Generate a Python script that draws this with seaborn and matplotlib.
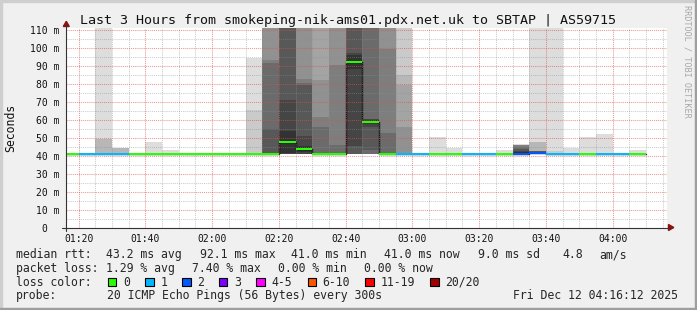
import numpy as np
import pandas as pd
import matplotlib
matplotlib.use("Agg")
import matplotlib.pyplot as plt
import seaborn as sns
from matplotlib.lines import Line2D
from matplotlib.patches import Polygon, Rectangle
from matplotlib.ticker import FixedLocator, MultipleLocator

# ---------------- data ----------------
interval_start = ["01:15", "01:20", "01:25", "01:30", "01:35", "01:40", "01:45", "01:50",
                  "01:55", "02:00", "02:05", "02:10", "02:15", "02:20", "02:25", "02:30",
                  "02:35", "02:40", "02:45", "02:50", "02:55", "03:00", "03:05", "03:10",
                  "03:15", "03:20", "03:25", "03:30", "03:35", "03:40", "03:45", "03:50",
                  "03:55", "04:00", "04:05"]

median_ms = [41, 41, 41, 41, 41, 41, 41, 41, 41, 41,
             41, 41, 41, 47.5, 43.5, 41, 41, 92.0, 58.8, 41,
             41, 41, 41, 41, 41, 41, 41, 41, 41.5, 41,
             41, 41, 41, 41, 41]

lost_pings = [0, 1, 1, 1, 0, 0, 0, 0, 0, 0,
              0, 0, 0, 0, 0, 0, 0, 0, 0, 0,
              1, 1, 0, 0, 1, 1, 0, 2, 2, 1,
              1, 0, 1, 1, 0]

# 20 sorted ping round-trip times (ms) per 5-minute step
pings_ms = [
    [41, 41, 41, 41, 41, 41, 41, 41, 41, 41, 41, 41, 41, 41, 41, 41, 41, 41, 41, 41],
    [41, 41, 41, 41, 41, 41, 41, 41, 41, 41, 41, 41, 41, 41, 41, 41, 41, 41, 41, 41],
    [41, 41, 41, 41, 41, 41, 41, 41, 41, 41, 41, 41, 41, 41, 41, 41, 41, 49.3, 49.4, 150],
    [41, 41, 41, 41, 41, 41, 41, 41, 41, 41, 41, 41, 41, 41, 41, 41, 41, 43.9, 43.9, 44.0],
    [41, 41, 41, 41, 41, 41, 41, 41, 41, 41, 41, 41, 41, 41, 41, 41, 41, 41, 41, 41],
    [41, 41, 41, 41, 41, 41, 41, 41, 41, 41, 41, 41, 41, 41, 41, 41, 41, 41, 41, 47.4],
    [41, 41, 41, 41, 41, 41, 41, 41, 41, 41, 41, 41, 41, 41, 41, 41, 41, 41, 41, 43.0],
    [41, 41, 41, 41, 41, 41, 41, 41, 41, 41, 41, 41, 41, 41, 41, 41, 41, 41, 41, 41],
    [41, 41, 41, 41, 41, 41, 41, 41, 41, 41, 41, 41, 41, 41, 41, 41, 41, 41, 41, 41],
    [41, 41, 41, 41, 41, 41, 41, 41, 41, 41, 41, 41, 41, 41, 41, 41, 41, 41, 41, 41],
    [41, 41, 41, 41, 41, 41, 41, 41, 41, 41, 41, 41, 41, 41, 41, 41, 41, 41, 41, 41],
    [41, 41, 41, 41, 41, 41, 41, 41, 41, 41, 41, 41, 41, 41, 41, 41, 41, 41, 65, 94],
    [41, 41, 41, 41, 41, 41, 41, 41, 41, 41, 41, 41, 54.8, 91.5, 92.8, 150, 150, 150, 150, 150],
    [41, 41, 41, 41, 41, 41, 41, 41, 41, 41.5, 53.5, 71.1, 150, 150, 150, 150, 150, 150, 150, 150],
    [41, 41, 41, 41, 41, 41, 41, 41, 41, 42, 45, 51, 79, 80, 82.6, 150, 150, 150, 150, 150],
    [41, 41, 41, 41, 41, 41, 41, 41, 41, 41, 41, 41, 41, 55.7, 61.3, 81.7, 150, 150, 150, 150],
    [41, 41, 41, 41, 41, 41, 41, 41, 41, 41, 41, 41, 41, 46, 90, 150, 150, 150, 150, 150],
    [41, 41, 41, 41, 41, 41, 41, 41, 45.5, 88, 96, 97, 150, 150, 150, 150, 150, 150, 150, 150],
    [41, 41, 41, 41, 41, 41, 41, 42.8, 56, 58, 59.5, 60, 60.4, 150, 150, 150, 150, 150, 150, 150],
    [41, 41, 41, 41, 41, 41, 41, 41, 41, 41, 41, 41, 41, 52.6, 99.3, 150, 150, 150, 150, 150],
    [41, 41, 41, 41, 41, 41, 41, 41, 41, 41, 41, 41, 41, 41, 41, 55.7, 78.9, 84.8, 150, 150],
    [41, 41, 41, 41, 41, 41, 41, 41, 41, 41, 41, 41, 41, 41, 41, 41, 41, 41, 41, 41],
    [41, 41, 41, 41, 41, 41, 41, 41, 41, 41, 41, 41, 41, 41, 41, 41, 41, 41, 41, 50.2],
    [41, 41, 41, 41, 41, 41, 41, 41, 41, 41, 41, 41, 41, 41, 41, 41, 41, 41, 41, 44.0],
    [41, 41, 41, 41, 41, 41, 41, 41, 41, 41, 41, 41, 41, 41, 41, 41, 41, 41, 41, 41],
    [41, 41, 41, 41, 41, 41, 41, 41, 41, 41, 41, 41, 41, 41, 41, 41, 41, 41, 41, 41],
    [41, 41, 41, 41, 41, 41, 41, 41, 41, 41, 41, 41, 41, 41, 41, 41, 41, 41, 41, 43.1],
    [41, 41, 41, 41, 41, 41, 41, 41, 41, 41, 42, 42.5, 43.5, 44.5, 45.6, 45.8, 45.9, 46.0, 46.1, 46.2],
    [41, 41, 41, 41, 41, 41, 41, 41, 41, 41, 41, 41, 42.5, 42.5, 42.5, 42.5, 42.5, 47.4, 47.4, 150],
    [41, 41, 41, 41, 41, 41, 41, 41, 41, 41, 41, 41, 41, 41, 41, 41, 41, 41, 42.5, 150],
    [41, 41, 41, 41, 41, 41, 41, 41, 41, 41, 41, 41, 41, 41, 41, 41, 41, 41, 41, 44.0],
    [41, 41, 41, 41, 41, 41, 41, 41, 41, 41, 41, 41, 41, 41, 41, 41, 41, 41, 41, 50.2],
    [41, 41, 41, 41, 41, 41, 41, 41, 41, 41, 41, 41, 41, 41, 41, 41, 41, 41, 41, 51.9],
    [41, 41, 41, 41, 41, 41, 41, 41, 41, 41, 41, 41, 41, 41, 41, 41, 41, 41, 41, 41],
    [41, 41, 41, 41, 41, 41, 41, 41, 41, 41, 41, 41, 41, 41, 41, 41, 41, 41, 41, 42.8],
]

x_tick_times = ["01:20", "01:40", "02:00", "02:20", "02:40", "03:00", "03:20", "03:40", "04:00"]
y_tick_values = [0, 10, 20, 30, 40, 50, 60, 70, 80, 90, 100, 110]
y_tick_labels = ["0  ", "10 m", "20 m", "30 m", "40 m", "50 m", "60 m", "70 m", "80 m",
                 "90 m", "100 m", "110 m"]
x_start, x_end = "01:16:12", "04:16:12"

title = "Last 3 Hours from smokeping-nik-ams01.pdx.net.uk to SBTAP | AS59715"
rtt_stats = ["43.2 ms avg", "92.1 ms max", "41.0 ms min", "41.0 ms now", "9.0 ms sd", "4.8", "am/s"]
loss_stats = ["1.29 % avg", "7.40 % max", "0.00 % min", "0.00 % now"]
loss_labels = ["0", "1", "2", "3", "4-5", "6-10", "11-19", "20/20"]
loss_colors = ["#26ff00", "#00b8ff", "#0059ff", "#7e00ff", "#ff00ff", "#ff5500", "#ff0000", "#a10000"]
probe_text = "20 ICMP Echo Pings (56 Bytes) every 300s"
stamp_text = "Fri Dec 12 04:16:12 2025"


def tmin(s):
    parts = [int(p) for p in s.split(":")]
    return parts[0] * 60 + parts[1] + (parts[2] / 60 if len(parts) > 2 else 0)


# ---------------- figure ----------------
W, H = 697, 310
sns.set_theme(style="white")
plt.rcParams["font.family"] = ["DejaVu Sans Mono"]

fig = plt.figure(figsize=(W / 100, H / 100), dpi=100, facecolor="#F0F0F0")


def fx(x):
    return x / W


def fy(y):
    return 1 - y / H


X0, X1, Y0, Y1 = 65.9, 666.8, 227.5, 27.7
PX_PER_MS = 1.8
ax = fig.add_axes([fx(X0), fy(Y0), (X1 - X0) / W, (Y0 - Y1) / H])
ax.set_facecolor("white")

starts = np.array([tmin(s) for s in interval_start], dtype=float)
P = np.array(pings_ms, dtype=float)
n = P.shape[1]
half = n // 2

# smoke: pairs of pings, outer light -> inner dark
for k in range(1, half + 1):
    lo = P[:, k - 1]
    hi = P[:, n - k]
    g = int(190 / half * (half - k)) + 50
    col = "#%02x%02x%02x" % (g, g, g)
    ax.bar(starts, hi - lo, bottom=lo, width=5, align="edge", color=col,
           linewidth=0, antialiased=False, zorder=1)

# median step line
step_df = pd.DataFrame({"t": list(starts) + [starts[-1] + 5],
                        "median": list(median_ms) + [median_ms[-1]]})
sns.lineplot(data=step_df, x="t", y="median", drawstyle="steps-post", color="#111111",
             lw=1.0, ax=ax, estimator=None, zorder=2)


def loss_color(l):
    bounds = [0, 1, 2, 3, 5, 10, 19, 20]
    for i, b in enumerate(bounds):
        if l <= b:
            return loss_colors[i]
    return loss_colors[-1]


med = np.array(median_ms, dtype=float)
ax.bar(starts, 1.1, bottom=med - 0.55, width=5, align="edge",
       color=[loss_color(l) for l in lost_pings], linewidth=0, antialiased=False, zorder=3)

ax.set_xlim(tmin(x_start), tmin(x_end))
ax.set_ylim(0, (Y0 - Y1) / PX_PER_MS)

ax.xaxis.set_major_locator(FixedLocator([tmin(t) for t in x_tick_times]))
ax.set_xticklabels(x_tick_times)
ax.xaxis.set_minor_locator(MultipleLocator(5))
ax.yaxis.set_major_locator(FixedLocator(y_tick_values))
ax.set_yticklabels(y_tick_labels)
ax.yaxis.set_minor_locator(MultipleLocator(5))

ax.grid(which="minor", color="#8F8F8F", alpha=0.45, linestyle=(0, (1, 1)), linewidth=0.75)
ax.grid(which="major", color="#DE5050", alpha=0.6, linestyle=(0, (1, 1)), linewidth=0.75)
ax.set_axisbelow(False)
for gl in ax.get_xgridlines() + ax.get_ygridlines():
    gl.set_zorder(4)

ax.tick_params(axis="both", which="both", length=1.5, width=0.7, color="#888888",
               direction="out")
ax.tick_params(axis="x", which="major", labelsize=7, pad=3.2)
ax.tick_params(axis="y", which="major", labelsize=7, pad=3.2)
for lab in ax.get_xticklabels() + ax.get_yticklabels():
    lab.set_color("#111111")
for s in ax.spines.values():
    s.set_visible(False)
ax.set_xlabel("")
ax.set_ylabel("")

# axis lines and arrows (rrdtool style)
fig.add_artist(Line2D([fx(66.3), fx(66.3)], [fy(231), fy(25)], color="#333333", lw=0.8,
                      transform=fig.transFigure))
fig.add_artist(Line2D([fx(62), fx(669)], [fy(Y0), fy(Y0)], color="#333333", lw=0.8,
                      transform=fig.transFigure))
fig.add_artist(Polygon([[fx(63.3), fy(26.5)], [fx(69.3), fy(26.5)], [fx(66.3), fy(21.3)]],
                       closed=True, color="#8B1010", transform=fig.transFigure))
fig.add_artist(Polygon([[fx(668.5), fy(224.5)], [fx(668.5), fy(230.5)], [fx(673.8), fy(227.5)]],
                       closed=True, color="#8B1010", transform=fig.transFigure))

# frame shading
fig.add_artist(Rectangle((0, fy(2)), 1, 2 / H, color="#CFCFCF", transform=fig.transFigure))
fig.add_artist(Rectangle((0, 0), 2 / W, 1, color="#CFCFCF", transform=fig.transFigure))
fig.add_artist(Rectangle((0, 0), 1, 2 / H, color="#9E9E9E", transform=fig.transFigure))
fig.add_artist(Rectangle((fx(695), 0), 2 / W, 1, color="#9E9E9E", transform=fig.transFigure))

# texts
fig.text(fx(347.7), fy(24), title, ha="center", va="baseline", fontsize=9.6, color="#111111")
fig.text(fx(11), fy(127.5), "Seconds", rotation=90, ha="center", va="center", fontsize=8.3,
         color="#111111")
fig.text(fx(686.5), fy(61), "RRDTOOL / TOBI OETIKER", rotation=270, ha="center", va="center",
         fontsize=6.1, color="#A8A8A8")

FS = 8.3
base = [258.3, 271.9, 285.5, 299.1]
fig.text(fx(15.6), fy(base[0]), "median rtt:", fontsize=FS, va="baseline")
for s, x in zip(rtt_stats, [107.0, 200.3, 291.9, 384.4, 478.6, 563.1, 599.5]):
    fig.text(fx(x - 0.6), fy(base[0]), s, fontsize=FS, va="baseline")
fig.text(fx(15.6), fy(base[1]), "packet loss:", fontsize=FS, va="baseline")
for s, x in zip(loss_stats, [107.0, 192.8, 278.7, 364.8]):
    fig.text(fx(x - 0.6), fy(base[1]), s, fontsize=FS, va="baseline")
fig.text(fx(15.6), fy(base[2]), "loss color:", fontsize=FS, va="baseline")
box_x = [108.0, 145.3, 182.2, 219.1, 256.4, 307.6, 365.3, 430.2]
for lab, col, bx in zip(loss_labels, loss_colors, box_x):
    fig.add_artist(Rectangle((fx(bx), fy(286)), 8.3 / W, 8 / H, facecolor=col,
                             edgecolor="black", linewidth=0.8, transform=fig.transFigure))
    fig.text(fx(bx + 15.0), fy(base[2]), lab, fontsize=FS, va="baseline")
fig.text(fx(15.6), fy(base[3]), "probe:", fontsize=FS, va="baseline")
fig.text(fx(107.0), fy(base[3]), probe_text, fontsize=FS, va="baseline")
fig.text(fx(512.8), fy(base[3]), stamp_text, fontsize=FS, va="baseline")

fig.savefig("out.png", dpi=100, facecolor=fig.get_facecolor())
